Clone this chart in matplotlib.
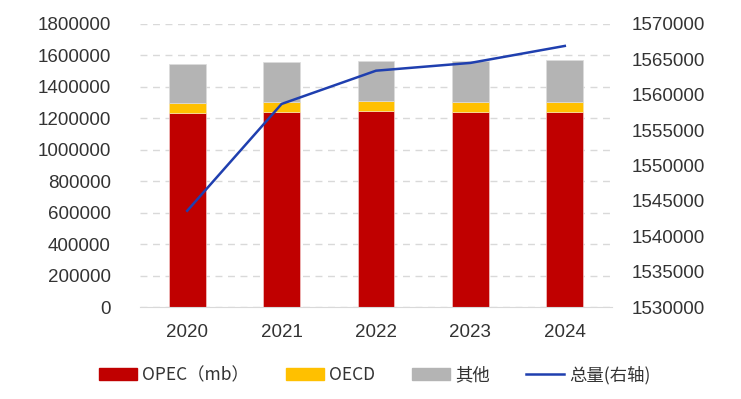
import matplotlib
matplotlib.use("Agg")
import matplotlib.pyplot as plt
from matplotlib.patches import Patch
from matplotlib.lines import Line2D
from matplotlib.ticker import FuncFormatter

plt.rcParams['font.family'] = ['Liberation Sans', 'Noto Sans CJK SC', 'DejaVu Sans']

years = ["2020", "2021", "2022", "2023", "2024"]
opec = [1236000, 1242000, 1246000, 1243000, 1243000]
oecd = [60000, 63000, 64000, 63000, 63000]
other = [250000, 254000, 256000, 260000, 265000]
total = [1543600, 1558700, 1563400, 1564500, 1566900]

RED, YELLOW, GRAY, BLUE = "#C00000", "#FFC000", "#B4B4B4", "#1F3FAF"
TXT = "#333333"
plain = FuncFormatter(lambda v, p: f"{v:.0f}")

fig = plt.figure(figsize=(7.41, 3.99), dpi=100)
ax = fig.add_axes([140 / 741, 1 - 307 / 399, 472 / 741, 283 / 399])
x = range(len(years))
w = 0.39
ax.bar(x, opec, w, color=RED, edgecolor="#f3c6c6", lw=0.5, zorder=2)
ax.bar(x, oecd, w, bottom=opec, color=YELLOW, edgecolor="#f7e3a8", lw=0.5, zorder=2)
bot2 = [a + b for a, b in zip(opec, oecd)]
ax.bar(x, other, w, bottom=bot2, color=GRAY, edgecolor="#dcdcdc", lw=0.5, zorder=2)

ax.set_xlim(-0.5, 4.5)
ax.set_ylim(0, 1800000)
ax.set_yticks(range(0, 1800001, 200000))
ax.yaxis.set_major_formatter(plain)
ax.yaxis.grid(True, color="#d9d9d9", ls=(0, (5, 4)), lw=1, zorder=0)
ax.set_xticks(list(x))
ax.set_xticklabels(years)
for s in ["top", "right", "left"]:
    ax.spines[s].set_visible(False)
ax.spines["bottom"].set_color("#d9d9d9")
ax.tick_params(axis="y", length=0, pad=21, labelsize=13.5, labelcolor=TXT)
ax.tick_params(axis="x", length=0, pad=12, labelsize=13.5, labelcolor=TXT)

ax2 = ax.twinx()
ax2.plot(list(x), total, color=BLUE, lw=1.8, zorder=3)
ax2.set_ylim(1530000, 1570000)
ax2.set_yticks(range(1530000, 1570001, 5000))
ax2.yaxis.set_major_formatter(plain)
for s in ["top", "right", "left", "bottom"]:
    ax2.spines[s].set_visible(False)
ax2.tick_params(axis="y", length=0, pad=14, labelsize=13.5, labelcolor=TXT)

handles = [Patch(color=RED), Patch(color=YELLOW), Patch(color=GRAY),
           Line2D([], [], color=BLUE, lw=1.8)]
labels = ["OPEC（mb）", "OECD", "其他", "总量(右轴)"]
leg = fig.legend(handles, labels, loc="center", bbox_to_anchor=(0.506, 0.06),
                 ncol=4, frameon=False, handlelength=2.2, handleheight=0.65,
                 handletextpad=0.3, columnspacing=2.1,
                 prop={"family": ["Noto Sans CJK SC", "DejaVu Sans"], "size": 12.5})
for t in leg.get_texts():
    t.set_color(TXT)

fig.savefig("out.png", dpi=100)
